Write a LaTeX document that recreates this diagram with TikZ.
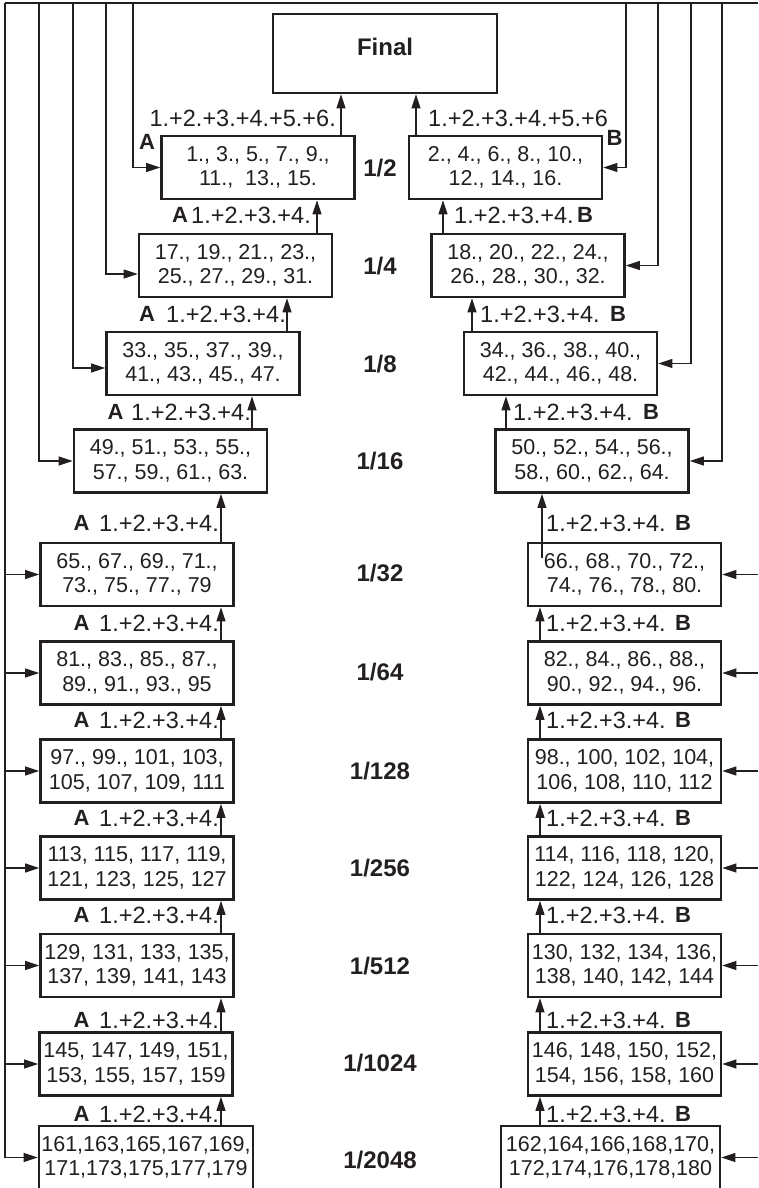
\documentclass[tikz,border=0pt]{standalone}
\usepackage{fontspec}
\setmainfont{Liberation Sans}
\usetikzlibrary{arrows.meta}
\definecolor{ink}{RGB}{35,31,32}
\begin{document}
\begin{tikzpicture}[x=1pt,y=-1pt,
  box/.style={draw=ink,text=ink,line width=2.6pt,minimum width=193pt,minimum height=63pt,inner sep=0pt,align=center,font=\fontsize{21.5}{24.5}\selectfont},
  lbl/.style={inner sep=0pt,text=ink,font=\fontsize{23.5}{24}\selectfont},
  ab/.style={inner sep=0pt,text=ink,font=\bfseries\fontsize{22}{24}\selectfont},
  lev/.style={inner sep=0pt,text=ink,font=\bfseries\fontsize{24}{26}\selectfont},
  conn/.style={draw=ink,line width=1.1pt},
  arr/.style={conn,-{Triangle[length=14pt,width=9pt]}}]
\useasboundingbox (0,0) rectangle (758,1188);

% Final
\node[box,minimum width=224pt,minimum height=79pt] (fin) at (385,53.5) {};
\node[inner sep=0pt,text=ink,font=\bfseries\fontsize{24}{26}\selectfont] (fint) at (385,47) {Final};

% left column
\node[box] (A1) at (258,167.5) {1., 3., 5., 7., 9.,\\11.,\ \ 13., 15.};
\node[box] (A2) at (235.5,265.5) {17., 19., 21., 23.,\\25., 27., 29., 31.};
\node[box] (A3) at (203,363.5) {33., 35., 37., 39.,\\41., 43., 45., 47.};
\node[box] (A4) at (170.5,461) {49., 51., 53., 55.,\\57., 59., 61., 63.};
\node[box] (A5) at (137,574.5) {65., 67., 69., 71.,\\73., 75., 77., 79};
\node[box] (A6) at (137,673) {81., 83., 85., 87.,\\89., 91., 93., 95};
\node[box] (A7) at (137,771) {97., 99., 101, 103,\\105, 107, 109, 111};
\node[box] (A8) at (137,868) {113, 115, 117, 119,\\121, 123, 125, 127};
\node[box] (A9) at (137,965.5) {129, 131, 133, 135,\\137, 139, 141, 143};
\node[box] (A10) at (136,1064) {145, 147, 149, 151,\\153, 155, 157, 159};
\node[box,minimum width=214pt] (A11) at (146,1157.5) {161,163,165,167,169,\\171,173,175,177,179};

% right column
\node[box] (B1) at (505.5,167.5) {2., 4., 6., 8., 10.,\\12., 14., 16.};
\node[box] (B2) at (528,265.5) {18., 20., 22., 24.,\\26., 28., 30., 32.};
\node[box] (B3) at (560.5,363.5) {34., 36., 38., 40.,\\42., 44., 46., 48.};
\node[box] (B4) at (592,461) {50., 52., 54., 56.,\\58., 60., 62., 64.};
\node[box] (B5) at (624.5,574.5) {66., 68., 70., 72.,\\74., 76., 78., 80.};
\node[box] (B6) at (624.5,673) {82., 84., 86., 88.,\\90., 92., 94., 96.};
\node[box] (B7) at (624.5,771) {98., 100, 102, 104,\\106, 108, 110, 112};
\node[box] (B8) at (624.5,868) {114, 116, 118, 120,\\122, 124, 126, 128};
\node[box] (B9) at (624.5,965.5) {130, 132, 134, 136,\\138, 140, 142, 144};
\node[box] (B10) at (624.5,1064) {146, 148, 150, 152,\\154, 156, 158, 160};
\node[box,minimum width=219pt] (B11) at (610.5,1157.5) {162,164,166,168,170,\\172,174,176,178,180};

% level labels
\node[lev] (v1) at (380,168) {1/2};
\node[lev] (v2) at (380,266) {1/4};
\node[lev] (v3) at (380,364) {1/8};
\node[lev] (v4) at (380,461) {1/16};
\node[lev] (v5) at (380,573) {1/32};
\node[lev] (v6) at (380,672) {1/64};
\node[lev] (v7) at (380,771) {1/128};
\node[lev] (v8) at (380,868) {1/256};
\node[lev] (v9) at (380,966) {1/512};
\node[lev] (v10) at (380,1063) {1/1024};
\node[lev] (v11) at (380,1160) {1/2048};

% upward arrows, left
\draw[arr] (A1.north -| 341,0) -- (fin.south -| 341,0);
\draw[arr] (A2.north -| 317,0) -- (A1.south -| 317,0);
\draw[arr] (A3.north -| 287,0) -- (A2.south -| 287,0);
\draw[arr] (A4.north -| 252,0) -- (A3.south -| 252,0);
\draw[arr] (A5.north -| 221,0) -- (A4.south -| 221,0);
\draw[arr] (A6.north -| 221,0) -- (A5.south -| 221,0);
\draw[arr] (A7.north -| 221,0) -- (A6.south -| 221,0);
\draw[arr] (A8.north -| 221,0) -- (A7.south -| 221,0);
\draw[arr] (A9.north -| 221,0) -- (A8.south -| 221,0);
\draw[arr] (A10.north -| 221,0) -- (A9.south -| 221,0);
\draw[arr] (A11.north -| 221,0) -- (A10.south -| 221,0);

% upward arrows, right
\draw[arr] (B1.north -| 416,0) -- (fin.south -| 416,0);
\draw[arr] (B2.north -| 443,0) -- (B1.south -| 443,0);
\draw[arr] (B3.north -| 472,0) -- (B2.south -| 472,0);
\draw[arr] (B4.north -| 506,0) -- (B3.south -| 506,0);
\coordinate (b5s) at (542,558);
\draw[arr] (b5s) -- (B4.south -| b5s);
\draw[arr] (B6.north -| 540,0) -- (B5.south -| 540,0);
\draw[arr] (B7.north -| 540,0) -- (B6.south -| 540,0);
\draw[arr] (B8.north -| 540,0) -- (B7.south -| 540,0);
\draw[arr] (B9.north -| 540,0) -- (B8.south -| 540,0);
\draw[arr] (B10.north -| 540,0) -- (B9.south -| 540,0);
\draw[arr] (B11.north -| 540,0) -- (B10.south -| 540,0);

% feed lines
\coordinate (tl) at (5,3);
\coordinate (tr) at (758,3);
\coordinate (l2) at (39,3);
\coordinate (l3) at (73,3);
\coordinate (l4) at (106,3);
\coordinate (l5) at (133,3);
\coordinate (r1) at (626,3);
\coordinate (r2) at (658,3);
\coordinate (r3) at (691,3);
\coordinate (r4) at (722,3);
\draw[conn] (tl) -- (tr);
\draw[arr] (tl) |- (A11.west);
\draw[arr] (l2) |- (A4.west);
\draw[arr] (l3) |- ([yshift=-4.5pt]A3.west);
\draw[arr] (l4) |- ([yshift=-8.5pt]A2.west);
\draw[arr] (l5) |- (A1.west);
\foreach \i in {5,...,10} {\draw[arr] (A\i.west -| tl) -- (A\i.west);}
\draw[arr] (r1) |- (B1.east);
\draw[arr] (r2) |- (B2.east);
\draw[arr] (r3) |- (B3.east);
\draw[arr] (r4) |- (B4.east);
\foreach \i in {5,...,11} {\draw[arr] (B\i.east -| tr) -- (B\i.east);}

% sum labels
\node[lbl,anchor=east] (t1a) at (336,118) {1.+2.+3.+4.+5.+6.};
\node[ab] (a1) at (147,142) {A};
\node[lbl,anchor=west] (t1b) at (428,118) {1.+2.+3.+4.+5.+6};
\node[ab] (b1) at (614.5,138) {B};

\node[ab] (a2) at (180,215) {A};
\node[lbl,anchor=east] (t2a) at (311,215) {1.+2.+3.+4.};
\node[lbl,anchor=west] (t2b) at (454,215) {1.+2.+3.+4.};
\node[ab] (b2) at (585,215) {B};

\node[ab] (a3) at (147,314) {A};
\node[lbl,anchor=east] (t3a) at (286,314) {1.+2.+3.+4.};
\node[lbl,anchor=west] (t3b) at (480,314) {1.+2.+3.+4.};
\node[ab] (b3) at (618,314) {B};

\node[ab] (a4) at (115.5,412) {A};
\node[lbl,anchor=east] (t4a) at (251,412) {1.+2.+3.+4.};
\node[lbl,anchor=west] (t4b) at (513,412) {1.+2.+3.+4.};
\node[ab] (b4) at (651,412) {B};

\foreach \i/\y in {5/523,6/623,7/720,8/818,9/915,10/1020,11/1114} {
  \node[ab] (a\i) at (81.5,\y) {A};
  \node[lbl,anchor=east] (t\i a) at (219,\y) {1.+2.+3.+4.};
  \node[lbl,anchor=west] (t\i b) at (546,\y) {1.+2.+3.+4.};
  \node[ab] (b\i) at (683,\y) {B};
}
\end{tikzpicture}
\end{document}
